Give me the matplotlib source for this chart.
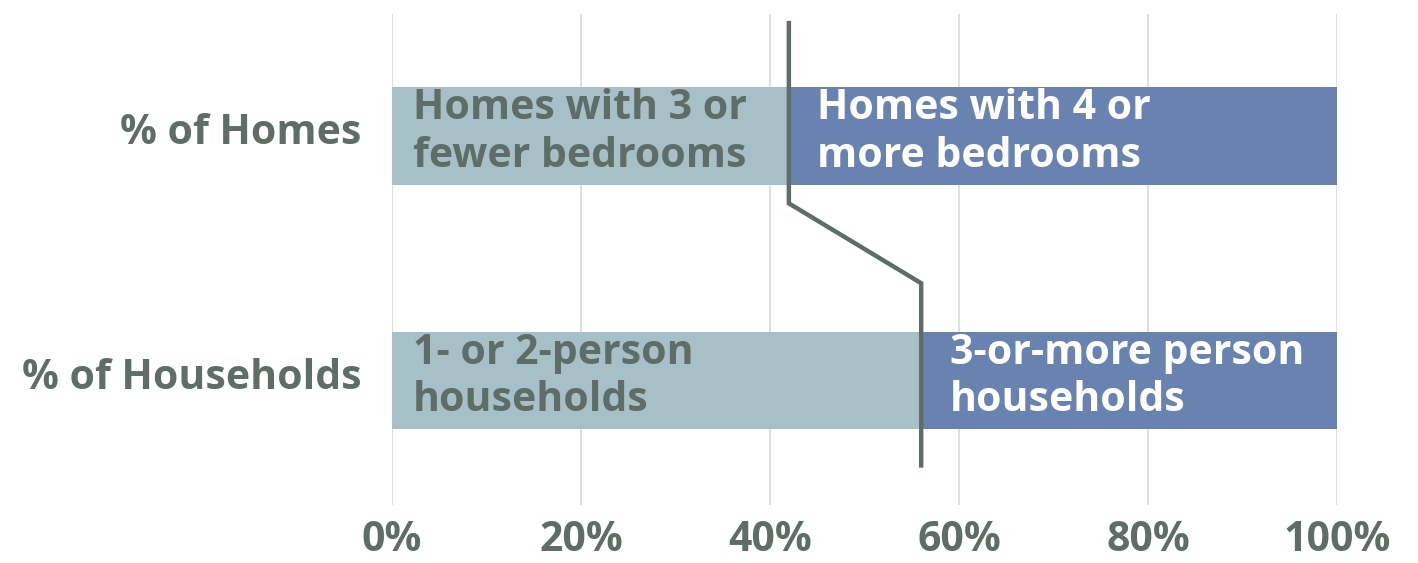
import matplotlib
matplotlib.use('Agg')
import matplotlib.pyplot as plt
import numpy as np

# data
categories = ['% of Homes', '% of Households']
small_share = [0.42, 0.56]   # 3 or fewer bedrooms / 1-2 person households
left_labels = ['Homes with 3 or\nfewer bedrooms', '1- or 2-person\nhouseholds']
right_labels = ['Homes with 4 or\nmore bedrooms', '3-or-more person\nhouseholds']
tick_vals = [0, 0.2, 0.4, 0.6, 0.8, 1.0]
tick_labels = ['0%', '20%', '40%', '60%', '80%', '100%']

LIGHT = '#A7BFC6'
DARK = '#6883B0'
GREY = '#5E6E66'
FS = 29.5

plt.rcParams['font.family'] = ['Open Sans', 'DejaVu Sans']
plt.rcParams['font.weight'] = 'bold'

fig = plt.figure(figsize=(14.18, 5.63), dpi=100)
ax = fig.add_axes([0.2764, 0.103, 0.6665, 0.872])

y = np.arange(len(categories))
small = np.array(small_share)
large = 1 - small
ax.barh(y, small, height=0.4, color=LIGHT, zorder=2)
ax.barh(y, large, left=small, height=0.4, color=DARK, zorder=2)

for i in range(len(categories)):
    ax.text(0.022, y[i] - 0.015, left_labels[i], color=GREY, fontsize=FS,
            fontweight='bold', va='center', ha='left', linespacing=1.2, zorder=4)
    ax.text(small[i] + 0.03, y[i] - 0.015, right_labels[i], color='white', fontsize=FS,
            fontweight='bold', va='center', ha='left', linespacing=1.2, zorder=4)

# connector line between the two splits
ax.plot([small[0], small[0], small[1], small[1]], [-0.463, 0.275, 0.602, 1.348],
        color=GREY, lw=3.2, zorder=3, solid_joinstyle='miter')

ax.set_xlim(0, 1)
ax.set_ylim(1.51, -0.5)
ax.set_yticks(y - 0.03)
ax.set_yticklabels(categories, fontsize=FS, fontweight='bold', color=GREY)
ax.set_xticks(tick_vals)
ax.set_xticklabels(tick_labels, fontsize=FS, fontweight='bold', color=GREY)
ax.tick_params(axis='both', length=0)
ax.tick_params(axis='y', pad=22)
ax.tick_params(axis='x', pad=11)
ax.grid(axis='x', color='#D9D9D9', lw=1.2, zorder=0)
ax.set_axisbelow(True)
for s in ax.spines.values():
    s.set_visible(False)

fig.savefig('out.png', dpi=100)
